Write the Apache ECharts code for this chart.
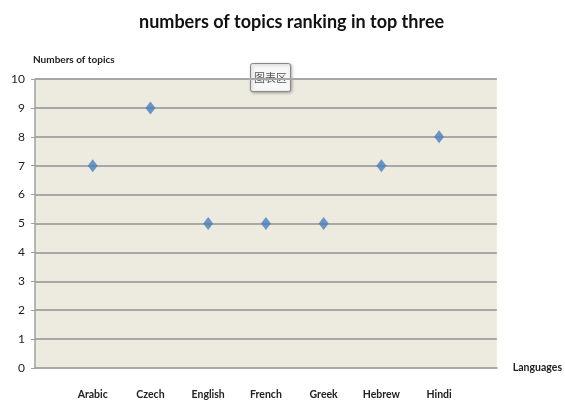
<!DOCTYPE html>
<html><head><meta charset="utf-8">
<script src="https://cdn.jsdelivr.net/npm/echarts@6/dist/echarts.min.js"></script>
<style>html,body{margin:0;padding:0;background:#fff}#c{width:565px;height:404px}</style>
</head><body><div id="c"></div>
<script>
const categories = ['Arabic','Czech','English','French','Greek','Hebrew','Hindi'];
const values = [7, 9, 5, 5, 5, 7, 8];
const yTicks = [0,1,2,3,4,5,6,7,8,9,10];

const FONT = "Lato, sans-serif";
const chart = echarts.init(document.getElementById('c'));
chart.setOption({
  animation: false,
  title: {
    text: 'numbers of topics ranking in top three',
    left: 134, top: 8,
    textStyle: {fontFamily: FONT, fontSize: 18, fontWeight: 'bold', color: '#111'}
  },
  grid: {left: 35, right: 68, top: 79, bottom: 36, show: true, backgroundColor: '#EDEAE0', borderWidth: 0},
  xAxis: {
    type: 'value', min: 0, max: 8, interval: 1,
    name: 'Languages', nameLocation: 'end', nameGap: 16,
    nameTextStyle: {fontFamily: FONT, fontSize: 10.5, fontWeight: 'bold', color: '#222', verticalAlign: 'middle', padding: [4,0,0,0]},
    axisLine: {show: true, lineStyle: {color: '#A8A8A8', width: 2}},
    axisTick: {show: false},
    splitLine: {show: false},
    axisLabel: {
      margin: 21, fontFamily: FONT, fontSize: 10.5, fontWeight: 'bold', color: '#222',
      showMinLabel: false, showMaxLabel: false,
      formatter: v => (Number.isInteger(v) && v >= 1 && v <= categories.length) ? categories[v-1] : ''
    }
  },
  yAxis: {
    type: 'value', min: yTicks[0], max: yTicks[yTicks.length-1], interval: 1,
    name: 'Numbers of topics', nameLocation: 'end', nameGap: 14,
    nameTextStyle: {fontFamily: FONT, fontSize: 10, fontWeight: 'bold', color: '#222', align: 'left', padding: [0,0,0,-2]},
    axisLine: {show: true, lineStyle: {color: '#A0A0A0', width: 1.5}},
    axisTick: {show: true, length: 4, lineStyle: {color: '#A0A0A0'}},
    splitLine: {show: true, lineStyle: {color: '#A8A8A8', width: 2}},
    axisLabel: {margin: 10, fontFamily: FONT, fontSize: 12, color: '#222'}
  },
  series: [{
    type: 'scatter',
    symbol: 'diamond',
    symbolSize: [10, 13],
    itemStyle: {color: '#4A7EBB'},
    data: values.map((v, i) => [i + 1, v])
  }],
  graphic: [{
    type: 'group', left: 250, top: 63,
    children: [
      {type: 'rect', shape: {x: 0, y: 0, width: 40, height: 28, r: 2},
       style: {fill: '#F8F8F8', stroke: '#888', lineWidth: 1, shadowBlur: 3, shadowColor: 'rgba(0,0,0,0.3)', shadowOffsetX: 1, shadowOffsetY: 1}},
      {type: 'text', style: {x: 20, y: 14, text: '图表区', align: 'center', verticalAlign: 'middle',
        font: "11px 'Noto Sans CJK SC'", fill: '#555'}}
    ]
  }]
});
</script></body></html>
